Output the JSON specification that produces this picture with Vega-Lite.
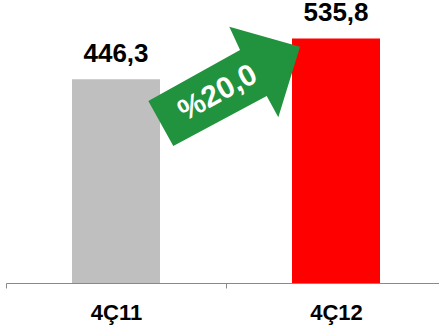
{
  "$schema": "https://vega.github.io/schema/vega-lite/v6.json",
  "width": 433,
  "height": 283,
  "autosize": {"type": "none"},
  "padding": {"left": 6, "top": 0, "right": 0, "bottom": 46},
  "config": {
    "view": {"stroke": null},
    "locale": {"number": {"decimal": ",", "thousands": ".", "grouping": [3], "currency": ["", ""]}}
  },
  "datasets": {
    "bars": [
      {"period": "4Ç11", "value": 446.3},
      {"period": "4Ç12", "value": 535.8}
    ],
    "arrow": [
      {"pos": 0.991, "level": 431.6, "textpos": 0.963, "textlevel": 416, "change": "%20,0"}
    ]
  },
  "resolve": {"scale": {"x": "independent"}},
  "layer": [
    {
      "data": {"name": "bars"},
      "mark": {"type": "bar", "width": {"band": 0.4}},
      "encoding": {
        "x": {
          "field": "period", "type": "nominal", "sort": null,
          "scale": {"range": [0, 440], "paddingInner": 0, "paddingOuter": 0},
          "axis": {
            "title": null, "labelAngle": 0, "grid": false,
            "domainColor": "#898989", "tickColor": "#898989", "tickSize": 5, "tickBand": "extent",
            "domainWidth": 1, "tickWidth": 1,
            "labelFont": "Liberation Sans", "labelFontWeight": "bold", "labelFontSize": 22,
            "labelColor": "#000000", "labelPadding": 14
          }
        },
        "y": {"field": "value", "type": "quantitative", "scale": {"domain": [0, 620]}, "axis": null},
        "color": {"field": "period", "type": "nominal", "sort": null, "scale": {"range": ["#bfbfbf", "#ff0000"]}, "legend": null}
      }
    },
    {
      "data": {"name": "bars"},
      "mark": {"type": "text", "font": "Liberation Sans", "fontWeight": "bold", "fontSize": 26, "color": "#000000", "baseline": "alphabetic", "dy": -17},
      "encoding": {
        "x": {"field": "period", "type": "nominal", "sort": null, "scale": {"range": [0, 440], "paddingInner": 0, "paddingOuter": 0}, "axis": null},
        "y": {"field": "value", "type": "quantitative", "scale": {"domain": [0, 620]}, "axis": null},
        "text": {"field": "value", "type": "quantitative", "format": ".1f"}
      }
    },
    {
      "data": {"name": "arrow"},
      "mark": {"type": "point", "shape": "M-0.757,0.15L0.16,-0.36L0.053,-0.593L0.76,-0.393L0.543,0.313L0.427,0.1L-0.507,0.6Z", "size": 40000, "filled": true, "color": "#21923d", "opacity": 1, "strokeWidth": 0},
      "encoding": {
        "x": {"field": "pos", "type": "quantitative", "scale": {"domain": [0, 2], "range": [0, 440]}, "axis": null},
        "y": {"field": "level", "type": "quantitative", "scale": {"domain": [0, 620]}, "axis": null}
      }
    },
    {
      "data": {"name": "arrow"},
      "mark": {"type": "text", "font": "Liberation Sans", "fontWeight": "bold", "fontSize": 30, "color": "#ffffff", "angle": -29, "align": "center", "baseline": "middle"},
      "encoding": {
        "x": {"field": "textpos", "type": "quantitative", "scale": {"domain": [0, 2], "range": [0, 440]}, "axis": null},
        "y": {"field": "textlevel", "type": "quantitative", "scale": {"domain": [0, 620]}, "axis": null},
        "text": {"field": "change", "type": "nominal"}
      }
    }
  ]
}
